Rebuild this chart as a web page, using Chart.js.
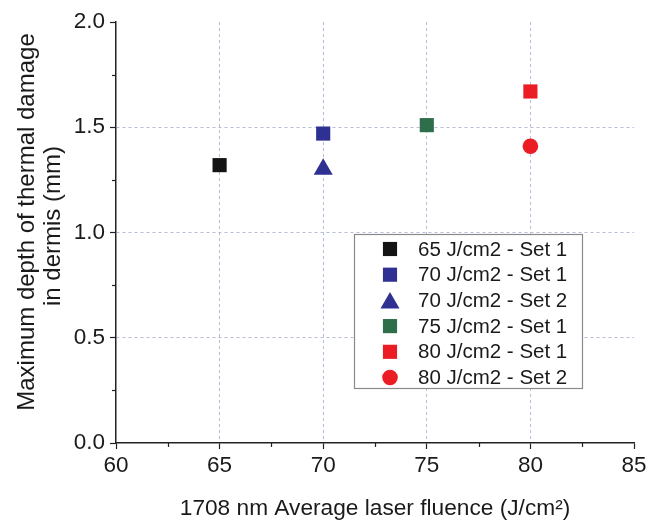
<!DOCTYPE html>
<html>
<head>
<meta charset="utf-8">
<script src="https://cdn.jsdelivr.net/npm/chart.js@4.4.1/dist/chart.umd.min.js"></script>
<style>
    body { margin: 0; background: #fff; }
    #caixa { width: 650px; height: 520px; }
</style>
</head>
<body>
<div id="caixa"><canvas id="grafico" width="650" height="520"></canvas></div>
<script>
// dados
const grupos = ['65 J/cm2 - Set 1', '70 J/cm2 - Set 1', '70 J/cm2 - Set 2', '75 J/cm2 - Set 1', '80 J/cm2 - Set 1', '80 J/cm2 - Set 2'];
const fluencia = [65, 70, 70, 75, 80, 80];
const profundidade = [1.32, 1.47, 1.30, 1.51, 1.67, 1.41];
const tituloY = ['Maximum depth of thermal damage', 'in dermis (mm)'];
const tituloX = '1708 nm Average laser fluence (J/cm\u00B2)';

// estilo de cada serie
const cores = ['#141414', '#2e3192', '#2e3192', '#2f6e4a', '#ec1c24', '#ec1c24'];
const formatos = ['rect', 'rect', 'triangle', 'rect', 'rect', 'circle'];
const raios = [10, 10, 11, 10, 10, 7.8];

const fonte = "'Liberation Sans', Arial, sans-serif";
const corTexto = '#1a1a1a';
const corEixo = '#222222';
const corGrade = '#b7bdd8';

Chart.defaults.font.family = fonte;
Chart.defaults.color = corTexto;

let datasets = [];
for (let i = 0; i < grupos.length; i++) {
    datasets.push({
        label: grupos[i],
        data: [{ x: fluencia[i], y: profundidade[i] }],
        pointStyle: formatos[i],
        pointRadius: raios[i],
        pointHoverRadius: raios[i],
        pointBorderWidth: 0,
        backgroundColor: cores[i],
        borderColor: cores[i]
    });
}

// tracinhos menores entre os ticks principais
const ticksMenores = {
    id: 'ticksMenores',
    afterDraw(chart) {
        const ctx = chart.ctx;
        ctx.save();
        ctx.strokeStyle = corEixo;
        ctx.lineWidth = 1.2;
        ['x', 'y'].forEach((id) => {
            const escala = chart.scales[id];
            for (let i = 0; i < escala.ticks.length - 1; i++) {
                const meio = (escala.ticks[i].value + escala.ticks[i + 1].value) / 2;
                const p = Math.round(escala.getPixelForValue(meio)) + 0.5;
                ctx.beginPath();
                if (id == 'x') {
                    ctx.moveTo(p, chart.chartArea.bottom);
                    ctx.lineTo(p, chart.chartArea.bottom + 4);
                } else {
                    ctx.moveTo(chart.chartArea.left, p);
                    ctx.lineTo(chart.chartArea.left - 4, p);
                }
                ctx.stroke();
            }
        });
        ctx.restore();
    }
};

// titulo do eixo y em duas linhas (desenhado a mao pra acertar a posicao)
const tituloEixoY = {
    id: 'tituloEixoY',
    afterDraw(chart) {
        const ctx = chart.ctx;
        ctx.save();
        ctx.font = '24px ' + fonte;
        ctx.fillStyle = corTexto;
        ctx.textAlign = 'center';
        ctx.textBaseline = 'middle';
        const xs = [27, 53];
        const ys = [222, 226];
        tituloY.forEach((linha, i) => {
            ctx.save();
            ctx.translate(xs[i], ys[i]);
            ctx.rotate(-Math.PI / 2);
            ctx.fillText(linha, 0, 0);
            ctx.restore();
        });
        ctx.restore();
    }
};

// legenda com caixa dentro da area do grafico
const legendaCaixa = {
    id: 'legendaCaixa',
    afterDraw(chart) {
        const ctx = chart.ctx;
        const esq = 354, topo = 234, larg = 228, alt = 154;
        ctx.save();
        ctx.fillStyle = '#ffffff';
        ctx.fillRect(esq, topo, larg, alt);
        ctx.strokeStyle = '#8a8a8a';
        ctx.lineWidth = 1.2;
        ctx.strokeRect(esq + 0.5, topo + 0.5, larg, alt);

        ctx.font = '20.5px ' + fonte;
        ctx.textBaseline = 'middle';
        ctx.textAlign = 'left';
        chart.data.datasets.forEach((ds, i) => {
            const y = topo + 15 + i * 25.7;
            ctx.fillStyle = ds.backgroundColor;
            let yMarca = y;
            if (ds.pointStyle == 'triangle') yMarca = y + 2.5;
            Chart.helpers.drawPoint(ctx, { pointStyle: ds.pointStyle, radius: ds.pointRadius, rotation: 0, borderWidth: 0 }, esq + 36, yMarca);
            ctx.fillStyle = corTexto;
            ctx.fillText(ds.label, esq + 64, y + 1);
        });
        ctx.restore();
    }
};

function corDaGrade(min, max) {
    return (c) => {
        if (c.tick == undefined) return corGrade;
        if (c.tick.value == min || c.tick.value == max) return 'rgba(0,0,0,0)';
        return corGrade;
    };
}

const config = {
    type: 'scatter',
    data: { datasets: datasets },
    options: {
        responsive: false,
        animation: false,
        layout: { padding: { top: 22, right: 16, left: 0, bottom: 0 } },
        plugins: {
            legend: { display: false },
            tooltip: { enabled: false }
        },
        scales: {
            x: {
                min: 60,
                max: 85,
                afterFit: (escala) => { escala.height = 77; },
                ticks: {
                    stepSize: 5,
                    padding: 3,
                    color: corTexto,
                    font: { size: 22.5 }
                },
                grid: {
                    color: corDaGrade(60, 85),
                    lineWidth: 1,
                    tickColor: corEixo,
                    tickLength: 6,
                    tickWidth: 1.2
                },
                border: { display: true, color: corEixo, width: 1.5, dash: [3, 3] },
                title: {
                    display: true,
                    text: tituloX,
                    color: corTexto,
                    font: { size: 22.7, lineHeight: 1.0 },
                    padding: { top: 0, bottom: 0 }
                }
            },
            y: {
                min: 0,
                max: 2,
                afterFit: (escala) => { escala.width = 116; },
                ticks: {
                    stepSize: 0.5,
                    padding: 5,
                    color: corTexto,
                    font: { size: 22.5 },
                    callback: (v) => v.toFixed(1)
                },
                grid: {
                    color: corDaGrade(0, 2),
                    lineWidth: 1,
                    tickColor: corEixo,
                    tickLength: 6,
                    tickWidth: 1.2
                },
                border: { display: true, color: corEixo, width: 1.5, dash: [3, 3] },
                title: { display: false }
            }
        }
    },
    plugins: [ticksMenores, tituloEixoY, legendaCaixa]
};

const grafico = new Chart(document.getElementById('grafico').getContext('2d'), config);
</script>
</body>
</html>
